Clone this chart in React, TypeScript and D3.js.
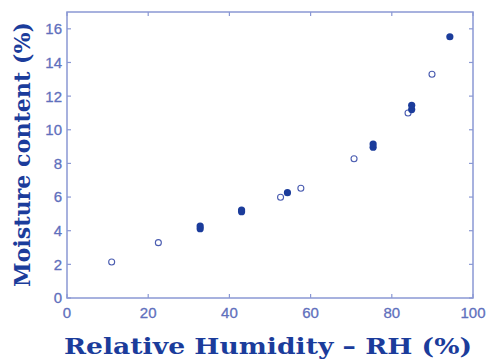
import * as d3 from "d3";

const openX = [11, 22.5, 52.6, 57.6, 70.7, 84, 89.9];
const openY = [2.14, 3.29, 5.99, 6.52, 8.28, 11.0, 13.3];
const filledX = [32.8, 32.8, 43, 43, 54.3, 75.4, 75.4, 84.9, 84.9, 94.3];
const filledY = [4.12, 4.28, 5.13, 5.23, 6.26, 8.96, 9.15, 11.2, 11.45, 15.53];
const xTicks = [0, 20, 40, 60, 80, 100];
const yTicks = [0, 2, 4, 6, 8, 10, 12, 14, 16];

const W = 489;
const H = 362;
const m = { left: 67, top: 12, right: 16, bottom: 64 };
const axisColor = "#8a98d4";
const tickColor = "#5f70bd";
const dark = "#1b3c9b";

export default function App() {
  const x = d3.scaleLinear().domain([0, 100]).range([m.left, W - m.right]);
  const y = d3.scaleLinear().domain([0, 17]).range([H - m.bottom, m.top]);
  const [x0, x1] = x.range();
  const [y0, y1] = y.range();
  const tl = 4;

  return (
    <svg
      width={W}
      height={H}
      style={{ position: "absolute", left: 0, top: 0, background: "#fff" }}
    >
      <rect x={x0} y={y1} width={x1 - x0} height={y0 - y1} fill="none" stroke={axisColor} strokeWidth={1.5} />
      {xTicks.map(t => (
        <g key={"x" + t}>
          <line x1={x(t)} x2={x(t)} y1={y0} y2={y0 - tl} stroke={axisColor} strokeWidth={1.2} />
          <line x1={x(t)} x2={x(t)} y1={y1} y2={y1 + tl} stroke={axisColor} strokeWidth={1.2} />
          <text x={x(t)} y={y0 + 20} textAnchor="middle" fontFamily="Liberation Sans, Arial, sans-serif" fontSize={15} fill={tickColor} stroke={tickColor} strokeWidth={0.3}>
            {t}
          </text>
        </g>
      ))}
      {yTicks.map(t => (
        <g key={"y" + t}>
          <line x1={x0} x2={x0 + tl} y1={y(t)} y2={y(t)} stroke={axisColor} strokeWidth={1.2} />
          <line x1={x1} x2={x1 - tl} y1={y(t)} y2={y(t)} stroke={axisColor} strokeWidth={1.2} />
          <text x={x0 - 5} y={y(t)} dy="0.36em" textAnchor="end" fontFamily="Liberation Sans, Arial, sans-serif" fontSize={15} fill={tickColor} stroke={tickColor} strokeWidth={0.3}>
            {t}
          </text>
        </g>
      ))}
      {openX.map((v, i) => (
        <circle key={"o" + i} cx={x(v)} cy={y(openY[i])} r={3} fill="#fff" stroke="#4a5cb0" strokeWidth={1.1} />
      ))}
      {filledX.map((v, i) => (
        <circle key={"f" + i} cx={x(v)} cy={y(filledY[i])} r={3.6} fill={dark} />
      ))}
      <text x={268} y={354} textAnchor="middle" textLength={408} lengthAdjust="spacingAndGlyphs" fontFamily="DejaVu Serif, serif" fontWeight="bold" fontSize={23} fill={dark}>
        Relative Humidity – RH (%)
      </text>
      <text transform={`translate(30,154.5) rotate(-90)`} textAnchor="middle" textLength={265} lengthAdjust="spacingAndGlyphs" fontFamily="DejaVu Serif, serif" fontWeight="bold" fontSize={23} fill={dark}>
        Moisture content (%)
      </text>
    </svg>
  );
}
